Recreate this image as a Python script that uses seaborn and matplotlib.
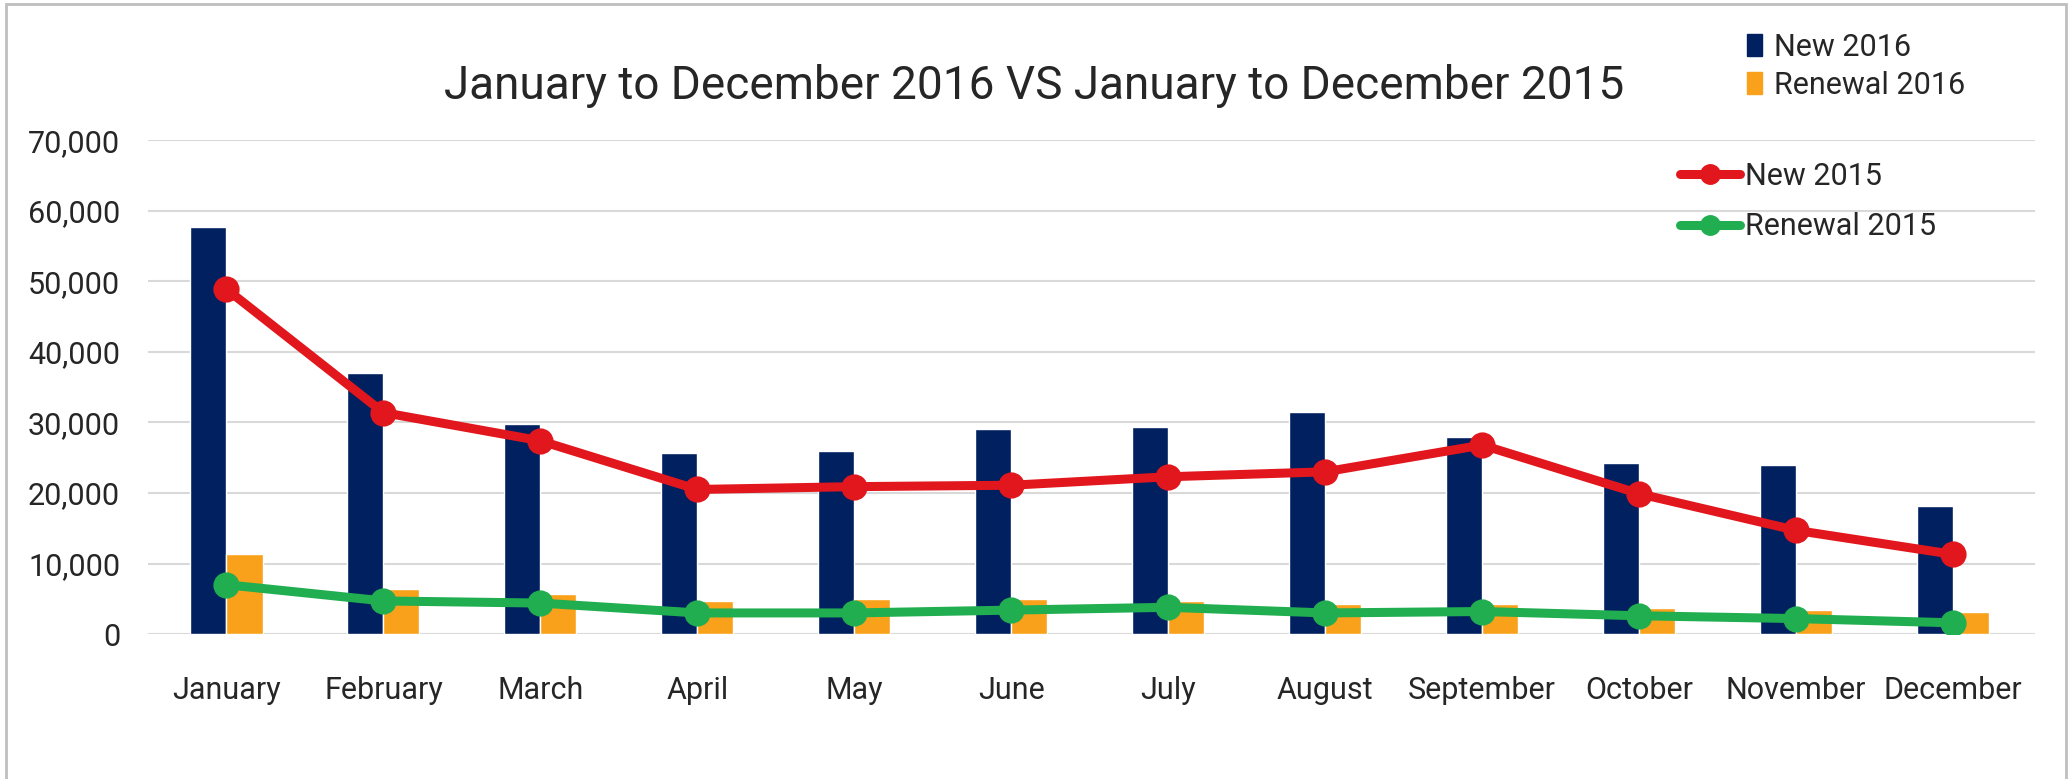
import matplotlib
matplotlib.use("Agg")
import matplotlib.pyplot as plt
from matplotlib.patches import Patch, Rectangle
from matplotlib.lines import Line2D
import seaborn as sns
import pandas as pd

months = ["January", "February", "March", "April", "May", "June", "July",
          "August", "September", "October", "November", "December"]
new_2016 = [57700, 37000, 29800, 25600, 25900, 29100, 29400, 31500, 28000, 24200, 23900, 18200]
renewal_2016 = [11300, 6400, 5700, 4700, 5000, 5000, 4700, 4300, 4300, 3700, 3400, 3200]
new_2015 = [48900, 31400, 27400, 20500, 20900, 21100, 22300, 23000, 26800, 19900, 14700, 11300]
renewal_2015 = [7000, 4700, 4400, 3000, 3000, 3400, 3800, 3000, 3200, 2600, 2200, 1600]

bars = pd.DataFrame({
    "Month": months * 2,
    "Value": new_2016 + renewal_2016,
    "Series": ["New 2016"] * 12 + ["Renewal 2016"] * 12,
})
lines = pd.DataFrame({
    "Month": months * 2,
    "Value": new_2015 + renewal_2015,
    "Series": ["New 2015"] * 12 + ["Renewal 2015"] * 12,
})

navy = "#002060"
orange = "#F9A11B"
red = "#E2171D"
green = "#21AE50"
text_col = "#262626"

sns.set_theme(style="white")
plt.rcParams["font.family"] = ["Roboto", "DejaVu Sans"]

fig = plt.figure(figsize=(20.72, 7.79), dpi=100)
ax = fig.add_axes([0.0714, 0.186, 0.9106, 0.634])

sns.barplot(data=bars, x="Month", y="Value", hue="Series", order=months,
            palette=[navy, orange], width=0.46, dodge=True, ax=ax,
            saturation=1, legend=False)
sns.pointplot(data=lines, x="Month", y="Value", hue="Series", order=months,
              palette=[red, green], markers="o", linestyles="-", dodge=False,
              errorbar=None, ax=ax, legend=False, markersize=14, linewidth=6.5)

ax.set_ylim(0, 70000)
ax.set_xlim(-0.5, 11.52)
ax.set_yticks(range(0, 70001, 10000))
ax.set_yticklabels([f"{v:,}" for v in range(0, 70001, 10000)])
ax.yaxis.grid(True, color="#D9D9D9", linewidth=1.5)
ax.set_axisbelow(True)
for s in ax.spines.values():
    s.set_visible(False)
ax.set_xlabel("")
ax.set_ylabel("")
ax.tick_params(axis="both", labelsize=22, colors=text_col, length=0)
ax.tick_params(axis="x", pad=30)
ax.tick_params(axis="y", pad=20)

fig.text(0.499, 0.89, "January to December 2016 VS January to December 2015",
         ha="center", va="center", fontsize=33, color=text_col)

# legend for bars
h1 = [Patch(color=navy), Patch(color=orange)]
leg1 = fig.legend(h1, ["New 2016", "Renewal 2016"], loc="upper left",
                  bbox_to_anchor=(0.843, 0.958), frameon=False, fontsize=22,
                  handlelength=0.5, handleheight=0.75, handletextpad=0.4,
                  labelspacing=0.3, borderpad=0, borderaxespad=0)
for t in leg1.get_texts():
    t.set_color(text_col)

# legend for lines
h2 = [Line2D([], [], color=red, lw=6.5, marker="o", markersize=14),
      Line2D([], [], color=green, lw=6.5, marker="o", markersize=14)]
leg2 = fig.legend(h2, ["New 2015", "Renewal 2015"], loc="upper left",
                  bbox_to_anchor=(0.811, 0.792), frameon=False, fontsize=22,
                  handlelength=1.95, handletextpad=0.15, labelspacing=0.7,
                  borderpad=0, borderaxespad=0)
for t in leg2.get_texts():
    t.set_color(text_col)

fig.patches.append(Rectangle((0.003, -0.01), 0.994, 1.005, transform=fig.transFigure,
                             fill=False, edgecolor="#BFBFBF", linewidth=2))

fig.savefig("out.png", dpi=100)
